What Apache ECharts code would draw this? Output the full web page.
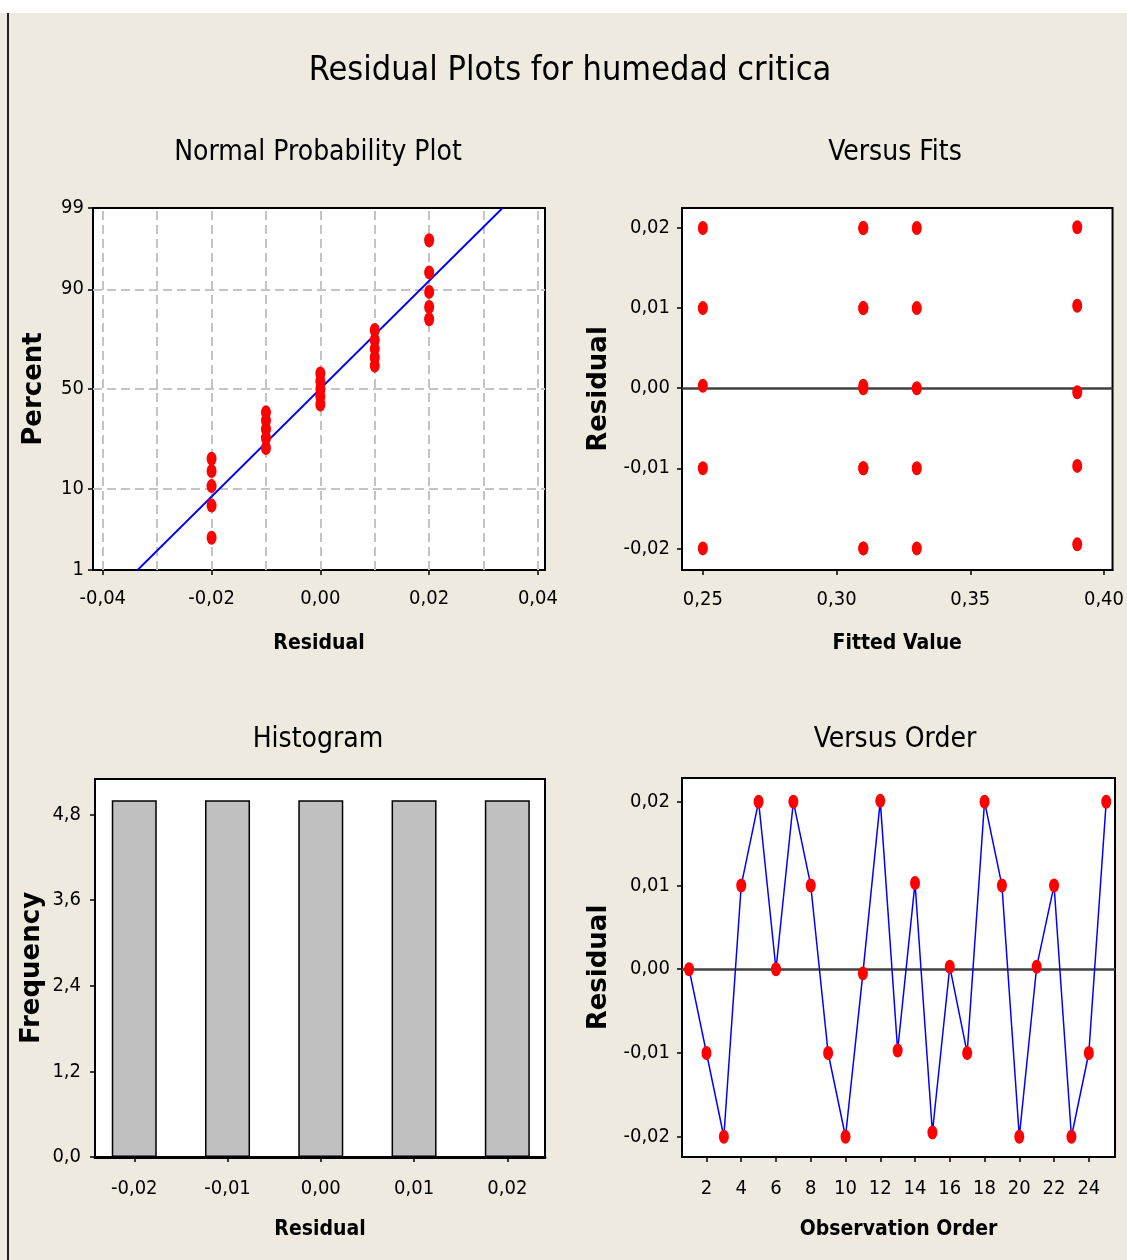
<!DOCTYPE html>
<html>
<head>
<meta charset="utf-8">
<script src="https://cdn.jsdelivr.net/npm/echarts@6/dist/echarts.min.js"></script>
<style>
html,body{margin:0;padding:0;background:#EEEAE0;}
#c{width:1127px;height:1260px;}
</style>
</head>
<body>
<div id="c"></div>
<script>
// ---------- DATA ----------
const mainTitle = 'Residual Plots for humedad critica';
const panelTitles = ['Normal Probability Plot', 'Versus Fits', 'Histogram', 'Versus Order'];

// Residuals by observation order (read from "Versus Order")
const observationOrder = [1,2,3,4,5,6,7,8,9,10,11,12,13,14,15,16,17,18,19,20,21,22,23,24,25];
const residuals = [0.000,-0.010,-0.020,0.010,0.020,0.000,0.020,0.010,-0.010,-0.020,-0.0005,0.0201,-0.0097,0.0103,-0.0195,0.0003,-0.010,0.020,0.010,-0.020,0.0003,0.010,-0.020,-0.010,0.020];

// Versus Fits (fitted value for each observation)
const fittedValues = [0.31,0.31,0.31,0.31,0.31,0.33,0.33,0.33,0.33,0.33,0.39,0.39,0.39,0.39,0.39,0.25,0.25,0.25,0.25,0.25,0.31,0.31,0.31,0.31,0.31];

// Normal probability plot: sorted residuals and their percents
const npResiduals = [-0.02,-0.02,-0.02,-0.02,-0.02,-0.01,-0.01,-0.01,-0.01,-0.01,0,0,0,0,0,0.01,0.01,0.01,0.01,0.01,0.02,0.02,0.02,0.02,0.02];
const npPercents = [2.8,6.7,10.6,14.6,18.5,22.4,26.4,30.3,34.3,38.2,42.1,46.1,50.0,53.9,57.9,61.8,65.7,69.7,73.6,77.6,81.5,85.4,89.4,93.3,97.2];
const npLineResidual = [-0.0336, 0.0335];
const npLinePercent = [1, 99];

// Histogram
const histBins = [-0.02,-0.01,0.00,0.01,0.02];
const histFreq = [5,5,5,5,5];

// Tick labels
const npXTicks = [-0.04,-0.02,0.00,0.02,0.04];
const npXGrid = [-0.04,-0.03,-0.02,-0.01,0,0.01,0.02,0.03,0.04];
const npYTicks = [1,10,50,90,99];
const npYGrid = [10,50,90];
const fitXTicks = [0.25,0.30,0.35,0.40];
const residTicks = [-0.02,-0.01,0.00,0.01,0.02];
const histXTicks = [-0.02,-0.01,0.00,0.01,0.02];
const histYTicks = [0.0,1.2,2.4,3.6,4.8];
const orderXTicks = [2,4,6,8,10,12,14,16,18,20,22,24];

// ---------- helpers ----------
// inverse standard normal CDF (probability-axis scale transform)
function probit(p){
  const a=[-3.969683028665376e+01,2.209460984245205e+02,-2.759285104469687e+02,1.383577518672690e+02,-3.066479806614716e+01,2.506628277459239e+00];
  const b=[-5.447609879822406e+01,1.615858368580409e+02,-1.556989798598866e+02,6.680131188771972e+01,-1.328068155288572e+01];
  const c=[-7.784894002430293e-03,-3.223964580411365e-01,-2.400758277161838e+00,-2.549732539343734e+00,4.374664141464968e+00,2.938163982698783e+00];
  const d=[7.784695709041462e-03,3.224671290700398e-01,2.445134137142996e+00,3.754408661907416e+00];
  const pl=0.02425, ph=1-pl; let q,r;
  if(p<pl){q=Math.sqrt(-2*Math.log(p));return (((((c[0]*q+c[1])*q+c[2])*q+c[3])*q+c[4])*q+c[5])/((((d[0]*q+d[1])*q+d[2])*q+d[3])*q+1);}
  if(p<=ph){q=p-0.5;r=q*q;return (((((a[0]*r+a[1])*r+a[2])*r+a[3])*r+a[4])*r+a[5])*q/(((((b[0]*r+b[1])*r+b[2])*r+b[3])*r+b[4])*r+1);}
  q=Math.sqrt(-2*Math.log(1-p));return -(((((c[0]*q+c[1])*q+c[2])*q+c[3])*q+c[4])*q+c[5])/((((d[0]*q+d[1])*q+d[2])*q+d[3])*q+1);
}
const pz = p => probit(p/100);
const comma = (v, n) => (Math.abs(v) < 1e-12 ? 0 : v).toFixed(n).replace('.', ',');

const NARROW = "'Liberation Sans Narrow','DejaVu Sans Condensed','Arial Narrow','Liberation Sans',sans-serif";
const WIDE = "'DejaVu Sans',Verdana,sans-serif";
const RED = '#FF0000', BLUE = '#0000FF';

const tickLabelStyle = {color:'#000', fontFamily:NARROW, fontSize:20};
const xNameStyle = {color:'#000', fontFamily:NARROW, fontSize:21, fontWeight:'bold'};
const yNameStyle = {color:'#000', fontFamily:WIDE, fontSize:26, fontWeight:'bold'};
const axisLineStyle = {show:true, onZero:false, lineStyle:{color:'#000', width:2}};
const tick = vals => ({show:true, inside:false, length:5, customValues:vals, lineStyle:{color:'#000', width:1.5}});
const titleStyle = size => ({fontFamily:NARROW, fontSize:size, fontWeight:'normal', color:'#000'});
const markerStyle = {color:RED, opacity:1, borderWidth:0};

const grids = [
  {left:93, top:208, width:452, height:362},
  {left:682, top:208, width:433, height:362},
  {left:95, top:779, width:450, height:378},
  {left:682, top:778, width:433, height:379}
].map(g => Object.assign({show:true, backgroundColor:'#fff', borderColor:'#000', borderWidth:2, containLabel:false}, g));

const npYz = npYTicks.map(pz);
function npYLabel(v){
  let best=0; npYz.forEach((z,i)=>{ if(Math.abs(z-v)<Math.abs(npYz[best]-v)) best=i; });
  return String(npYTicks[best]);
}

const option = {
  backgroundColor:'#EEEAE0',
  animation:false,
  title:[
    {text:mainTitle, left:565, top:49, textAlign:'center', textStyle:titleStyle(34)},
    {text:panelTitles[0], left:313, top:134, textAlign:'center', textStyle:titleStyle(28)},
    {text:panelTitles[1], left:890, top:134, textAlign:'center', textStyle:titleStyle(28)},
    {text:panelTitles[2], left:313, top:721, textAlign:'center', textStyle:titleStyle(28)},
    {text:panelTitles[3], left:890, top:721, textAlign:'center', textStyle:titleStyle(28)}
  ],
  graphic:[
    {type:'rect', left:0, top:0, shape:{width:1127, height:13}, style:{fill:'#fff'}, silent:true},
    {type:'rect', left:7, top:13, shape:{width:2, height:1247}, style:{fill:'#222'}, silent:true}
  ],
  grid:grids,
  xAxis:[
    {gridIndex:0, type:'value', min:-0.0418, max:0.0413, name:'Residual', nameLocation:'middle', nameGap:63, nameTextStyle:xNameStyle,
     axisLine:axisLineStyle, axisTick:tick(npXTicks), splitLine:{show:false},
     axisLabel:Object.assign({customValues:npXTicks, margin:19, formatter:v=>comma(v,2)}, tickLabelStyle)},
    {gridIndex:1, type:'value', min:0.2422, max:0.4032, name:'Fitted Value', nameLocation:'middle', nameGap:63, nameTextStyle:xNameStyle,
     axisLine:axisLineStyle, axisTick:tick(fitXTicks), splitLine:{show:false},
     axisLabel:Object.assign({customValues:fitXTicks, margin:20, formatter:v=>comma(v,2)}, tickLabelStyle)},
    {gridIndex:2, type:'value', min:-0.02421, max:0.02404, name:'Residual', nameLocation:'middle', nameGap:62, nameTextStyle:xNameStyle,
     axisLine:{show:true, onZero:false, lineStyle:{color:'#000', width:3}}, axisTick:tick(histXTicks), splitLine:{show:false},
     axisLabel:Object.assign({customValues:histXTicks, margin:22, formatter:v=>comma(v,2)}, tickLabelStyle)},
    {gridIndex:3, type:'value', min:0.592, max:25.506, name:'Observation Order', nameLocation:'middle', nameGap:62, nameTextStyle:xNameStyle,
     axisLine:axisLineStyle, axisTick:tick(orderXTicks), splitLine:{show:false},
     axisLabel:Object.assign({customValues:orderXTicks, margin:22, formatter:v=>String(Math.round(v))}, tickLabelStyle)}
  ],
  yAxis:[
    {gridIndex:0, type:'value', min:pz(npYTicks[0]), max:pz(npYTicks[npYTicks.length-1]), name:'Percent', nameLocation:'middle', nameGap:46, nameTextStyle:yNameStyle,
     axisLine:axisLineStyle, axisTick:tick(npYz), splitLine:{show:false},
     axisLabel:Object.assign({customValues:npYz, margin:9, formatter:npYLabel}, tickLabelStyle)},
    {gridIndex:1, type:'value', min:-0.0227, max:0.0225, name:'Residual', nameLocation:'middle', nameGap:70, nameTextStyle:yNameStyle,
     axisLine:axisLineStyle, axisTick:tick(residTicks), splitLine:{show:false},
     axisLabel:Object.assign({customValues:residTicks, margin:12, formatter:v=>comma(v,2)}, tickLabelStyle)},
    {gridIndex:2, type:'value', min:0, max:5.297, name:'Frequency', nameLocation:'middle', nameGap:50, nameTextStyle:yNameStyle,
     axisLine:axisLineStyle, axisTick:tick(histYTicks), splitLine:{show:false},
     axisLabel:Object.assign({customValues:histYTicks, margin:14, formatter:v=>comma(v,1)}, tickLabelStyle)},
    {gridIndex:3, type:'value', min:-0.02242, max:0.02283, name:'Residual', nameLocation:'middle', nameGap:70, nameTextStyle:yNameStyle,
     axisLine:axisLineStyle, axisTick:tick(residTicks), splitLine:{show:false},
     axisLabel:Object.assign({customValues:residTicks, margin:12, formatter:v=>comma(v,2)}, tickLabelStyle)}
  ],
  series:[
    // Normal plot grid lines
    {type:'scatter', xAxisIndex:0, yAxisIndex:0, data:[], z:1, silent:true,
     markLine:{z:1, silent:true, symbol:'none', label:{show:false}, animation:false,
       lineStyle:{color:'#C4C4C4', width:2, type:[9,5]},
       data:npXGrid.map(v=>({xAxis:v})).concat(npYGrid.map(p=>({yAxis:pz(p)})))}},
    // Normal plot fitted line
    {type:'line', xAxisIndex:0, yAxisIndex:0, z:4, silent:true, symbol:'none',
     lineStyle:{color:BLUE, width:1.8},
     data:npLineResidual.map((r,i)=>[r, pz(npLinePercent[i])])},
    // Normal plot points
    {type:'scatter', xAxisIndex:0, yAxisIndex:0, z:10, symbol:'circle', symbolSize:[10,14],
     itemStyle:markerStyle,
     data:npResiduals.map((r,i)=>[r, pz(npPercents[i])])},
    // Versus fits reference line
    {type:'scatter', xAxisIndex:1, yAxisIndex:1, data:[], z:1, silent:true,
     markLine:{z:1, silent:true, symbol:'none', label:{show:false}, animation:false,
       lineStyle:{color:'#404040', width:2.5, type:'solid'}, data:[{yAxis:0}]}},
    {type:'scatter', xAxisIndex:1, yAxisIndex:1, z:10, symbol:'circle', symbolSize:[10,14],
     itemStyle:markerStyle,
     data:fittedValues.map((f,i)=>[f, residuals[i]])},
    // Histogram
    {type:'bar', xAxisIndex:2, yAxisIndex:2, barWidth:45, z:2,
     itemStyle:{color:'#C0C0C0', borderColor:'#000', borderWidth:1.5},
     data:histBins.map((b,i)=>[b, histFreq[i]])},
    // Versus order reference line
    {type:'scatter', xAxisIndex:3, yAxisIndex:3, data:[], z:1, silent:true,
     markLine:{z:1, silent:true, symbol:'none', label:{show:false}, animation:false,
       lineStyle:{color:'#404040', width:2.5, type:'solid'}, data:[{yAxis:0}]}},
    {type:'line', xAxisIndex:3, yAxisIndex:3, z:10, symbol:'circle', symbolSize:[10,14], showSymbol:true,
     lineStyle:{color:BLUE, width:1.5}, itemStyle:markerStyle,
     data:observationOrder.map((o,i)=>[o, residuals[i]])}
  ]
};

const chart = echarts.init(document.getElementById('c'), null, {renderer:'canvas'});
chart.setOption(option);
</script>
</body>
</html>
